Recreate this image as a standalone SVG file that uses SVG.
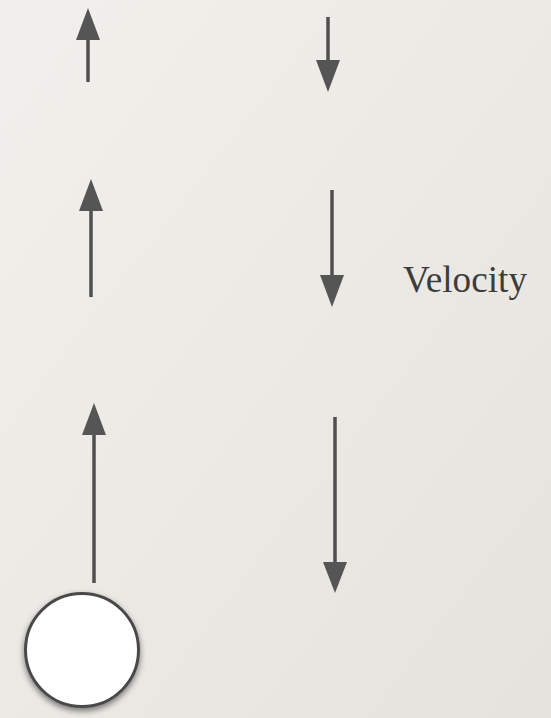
<svg xmlns="http://www.w3.org/2000/svg" width="551" height="718" viewBox="0 0 551 718">
<defs>
<linearGradient id="bg" x1="0" y1="0" x2="1" y2="1">
<stop offset="0" stop-color="#f2f0ec"/>
<stop offset="1" stop-color="#e6e3de"/>
</linearGradient>
<filter id="sh" x="-30%" y="-30%" width="160%" height="160%">
<feGaussianBlur in="SourceAlpha" stdDeviation="3"/>
<feOffset dx="0" dy="3"/>
<feComponentTransfer><feFuncA type="linear" slope="0.5"/></feComponentTransfer>
<feMerge><feMergeNode/><feMergeNode in="SourceGraphic"/></feMerge>
</filter>
<filter id="soft"><feGaussianBlur stdDeviation="0.6"/></filter>
</defs>
<style>
.shaft{stroke:#4f4f4f;stroke-width:3.5;fill:none}
.head{fill:#555555}
.lbl{font-family:"Liberation Serif","DejaVu Serif",serif;font-size:38px;fill:#3c3c3c}
</style>
<rect width="551" height="718" fill="url(#bg)"/>
<g id="connectors" filter="url(#soft)">
<g id="up1"><line class="shaft" x1="88" y1="82" x2="88" y2="36"/><polygon class="head" points="88,8 76,40 100,40"/></g>
<g id="up2"><line class="shaft" x1="91" y1="297" x2="91" y2="206"/><polygon class="head" points="91,179 79,211 103,211"/></g>
<g id="up3"><line class="shaft" x1="94" y1="583" x2="94" y2="430"/><polygon class="head" points="94,403 82,435 106,435"/></g>
<g id="down1"><line class="shaft" x1="328" y1="17" x2="328" y2="64"/><polygon class="head" points="328,92 316,60 340,60"/></g>
<g id="down2"><line class="shaft" x1="332" y1="190" x2="332" y2="280"/><polygon class="head" points="332,307 320,275 344,275"/></g>
<g id="down3"><line class="shaft" x1="335" y1="417" x2="335" y2="566"/><polygon class="head" points="335,593 323,562 347,562"/></g>
</g>
<g id="ball"><circle cx="82" cy="650" r="56.5" fill="#ffffff" stroke="#4a4a4a" stroke-width="3" filter="url(#sh)"/></g>
<g id="label"><text class="lbl" x="403" y="292" textLength="124" lengthAdjust="spacingAndGlyphs">Velocity</text></g>
</svg>
